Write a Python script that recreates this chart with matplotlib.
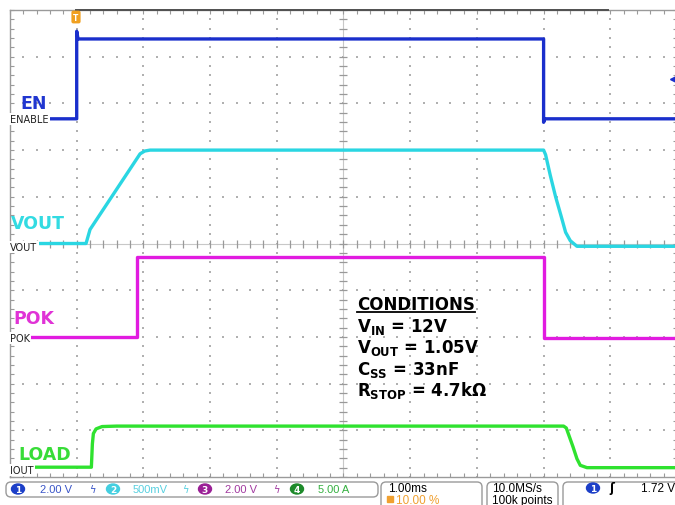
import numpy as np
import matplotlib
matplotlib.use('Agg')
import matplotlib.pyplot as plt
from matplotlib.patches import FancyBboxPatch, Ellipse, Rectangle

# ---------------- data ----------------
channel_names = ['EN', 'VOUT', 'POK', 'LOAD']
ground_labels = ['ENABLE', 'VOUT', 'POK', 'IOUT']
units_per_div = [2.0, 0.5, 2.0, 5.0]          # V/div, V/div, V/div, A/div
offset_div = [2.67, 0.0, -2.0, -4.79]          # ground marker position (div)

en_t = [-1.0, 0.0, 0.0, 0.02, 7.0, 7.0, 7.02, 9.0]          # ms
en_v = [0.0, 0.0, 3.75, 3.42, 3.42, -0.15, 0.0, 0.0]         # V

vout_t = [-1.0, 0.14, 0.20, 0.95, 1.02, 1.10, 7.0, 7.03, 7.10, 7.18, 7.26, 7.33, 7.40, 7.50, 9.0]
vout_v = [0.0, 0.0, 0.15, 0.96, 0.99, 1.0, 1.0, 0.95, 0.73, 0.50, 0.30, 0.12, 0.03, -0.03, -0.03]

pok_t = [-1.0, 0.90, 0.90, 7.0, 7.0, 9.0]
pok_v = [0.0, 0.0, 3.42, 3.42, -0.05, -0.05]

load_t = [-1.0, 0.22, 0.235, 0.25, 0.29, 0.38, 0.6, 7.30, 7.34, 7.38, 7.44, 7.50, 7.55, 7.65, 9.0]
load_a = [0.0, 0.0, 2.5, 3.6, 4.1, 4.35, 4.4, 4.4, 4.2, 3.4, 2.2, 0.9, 0.2, -0.05, -0.05]

trigger_level = 1.72     # V on channel 1
trigger_marker_t = 8.94  # ms, level marker at right edge
scale_labels = ['2.00 V', '500mV', '2.00 V', '5.00 A']
timebase = '1.00ms'
trigger_pos = '10.00 %'
sample_rate = '10.0MS/s'
record_len = '100k points'
trigger_text = '1.72 V'

conditions_title = 'CONDITIONS'
conditions = [r'$\mathbf{V_{IN}}$ = 12V',
              r'$\mathbf{V_{OUT}}$ = 1.05V',
              r'$\mathbf{C_{SS}}$ = 33nF',
              r'$\mathbf{R_{STOP}}$ = 4.7k$\mathbf{\Omega}$']

# ---------------- styling ----------------
plt.rcParams['mathtext.fontset'] = 'dejavusans'
trace_colors = ['#1a2fcc', '#2ad6e2', '#e11be0', '#2fe22f']
label_colors = ['#2036d0', '#33dbe2', '#e033d6', '#38dc38']
circle_colors = ['#1c3fc8', '#44cfe0', '#9a1f96', '#1d8a2a']
status_colors = ['#3a55c8', '#58d0e0', '#a23aa0', '#35b040']

W, H = 675, 506
fig = plt.figure(figsize=(W / 100, H / 100), dpi=100, facecolor='white')

# main scope graticule: 10 x 10 divisions, time in ms, vertical in divisions
left, right, top, bottom = 10, 677, 11, 478
ax = fig.add_axes([left / W, (H - bottom) / H, (right - left) / W, (bottom - top) / H])
ax.set_xlim(-1, 9)
ax.set_ylim(-5, 5)
ax.set_facecolor('white')

grid_c = '#b0b0b0'
sub_x = np.arange(-1, 9.001, 0.2)
sub_y = np.arange(-5, 5.001, 0.2)
for gx in range(0, 9):
    if gx == 4:
        continue
    ax.scatter(np.full_like(sub_y, gx), sub_y, s=2.0, c=grid_c, marker='s', lw=0, zorder=1)
for gy in range(-4, 5):
    if gy == 0:
        continue
    ax.scatter(sub_x, np.full_like(sub_x, gy), s=2.0, c=grid_c, marker='s', lw=0, zorder=1)
# centre lines with small ticks
ax.axhline(0, color='#c8c8c8', lw=0.8, zorder=1)
ax.axvline(4, color='#c8c8c8', lw=0.8, zorder=1)
ax.plot(sub_x, np.zeros_like(sub_x), ls='none', marker='|', ms=6, mew=0.9, color='#999999', zorder=1)
ax.plot(np.full_like(sub_y, 4), sub_y, ls='none', marker='_', ms=6, mew=0.9, color='#999999', zorder=1)

for s in ax.spines.values():
    s.set_color('#9a9a9a')
    s.set_linewidth(1.0)
ax.set_xticks(sub_x)
ax.set_yticks(sub_y)
ax.tick_params(direction='in', length=3, width=0.8, color='#9a9a9a', top=True, right=True,
               labelbottom=False, labelleft=False)

series = [(en_t, en_v), (vout_t, vout_v), (pok_t, pok_v), (load_t, load_a)]
for i, (t, v) in enumerate(series):
    y = offset_div[i] + np.asarray(v) / units_per_div[i]
    ax.plot(t, y, color=trace_colors[i], lw=2.4, solid_joinstyle='round', zorder=3)

# trigger level marker (channel 1)
ax.plot([trigger_marker_t], [offset_div[0] + trigger_level / units_per_div[0]], marker='<',
        ms=4, color=trace_colors[0], zorder=4, clip_on=False)

# ---------------- overlay in pixel coordinates ----------------
ov = fig.add_axes([0, 0, 1, 1])
ov.set_xlim(0, W)
ov.set_ylim(H, 0)
ov.axis('off')
ov.patch.set_alpha(0)
ov.set_zorder(3)

# record view bar and trigger position marker on top edge
ov.plot([76, 608], [11, 11], color='#505050', lw=1.4)
ov.text(76, 18, 'T', color='white', fontsize=5.5, fontweight='bold', ha='center', va='center',
        bbox=dict(boxstyle='round,pad=0.25', fc='#f0a020', ec='none'))

# channel name labels (big) and ground labels (small)
big_pos = [(20, 104), (11, 224), (13, 319), (18, 455)]
small_pos = [(10, 120), (10, 248), (10, 339), (10, 471)]
for i in range(4):
    ov.text(*big_pos[i], channel_names[i], color=label_colors[i], fontsize=12.5,
            fontweight='bold', ha='left', va='center', family='DejaVu Sans')
    ov.text(*small_pos[i], ground_labels[i], color='#202020', fontsize=7, ha='left',
            va='center', family='DejaVu Sans',
            bbox=dict(boxstyle='square,pad=0.15', fc='white', ec='none'))

# conditions block
tt = ov.text(357, 310, conditions_title, fontsize=12, fontweight='bold', color='black',
             ha='left', va='baseline', family='DejaVu Sans')
for k, line in enumerate(conditions):
    ov.text(357, 332 + k * 21.3, line, fontsize=12, fontweight='bold', color='black',
            ha='left', va='baseline', family='DejaVu Sans')
fig.canvas.draw()
bb = tt.get_window_extent()
ov.plot([bb.x0, bb.x1], [313, 313], color='black', lw=1.3)

# ---------------- status bar ----------------
def box(x, y, w, h):
    ov.add_patch(FancyBboxPatch((x, y), w, h, boxstyle='round,pad=0,rounding_size=5',
                                ec='#9a9a9a', fc='white', lw=1.0, clip_on=False))

def chan_circle(x, y, n, col):
    ov.add_patch(Ellipse((x, y), 13, 10, color=col))
    ov.text(x, y + 0.3, str(n), color='white', fontsize=6.5, fontweight='bold',
            ha='center', va='center')

box(6, 483, 372, 15)
box(381, 483, 101, 30)
box(487, 483, 71, 30)
box(563, 483, 130, 30)

circle_x = [18, 113, 205, 297]
value_x = [40, 133, 225, 318]
bw_x = [92, 185, 276]
for i in range(4):
    chan_circle(circle_x[i], 490, i + 1, circle_colors[i])
    ov.text(value_x[i], 490, scale_labels[i], color=status_colors[i], fontsize=8,
            ha='left', va='center', family='Liberation Sans')
for i in range(3):
    ov.text(bw_x[i], 490, 'ϟ', color=status_colors[i], fontsize=7, ha='center', va='center')

ov.text(388, 489, timebase, color='black', fontsize=8.5, ha='left', va='center', family='Liberation Sans')
ov.add_patch(Rectangle((387, 497), 6, 6, color='#f0a030'))
ov.text(396, 501, trigger_pos, color='#f0a030', fontsize=8.5, ha='left', va='center', family='Liberation Sans')
ov.text(492, 489, sample_rate, color='black', fontsize=8.5, ha='left', va='center', family='Liberation Sans')
ov.text(492, 501, record_len, color='black', fontsize=8.5, ha='left', va='center', family='Liberation Sans')
chan_circle(593, 489, 1, circle_colors[0])
ov.text(612, 489, 'ʃ', color='black', fontsize=8.5, fontweight='bold', ha='center', va='center')
ov.text(641, 489, trigger_text, color='black', fontsize=8.5, ha='left', va='center', family='Liberation Sans')

fig.savefig('out.png', dpi=100, facecolor='white')
